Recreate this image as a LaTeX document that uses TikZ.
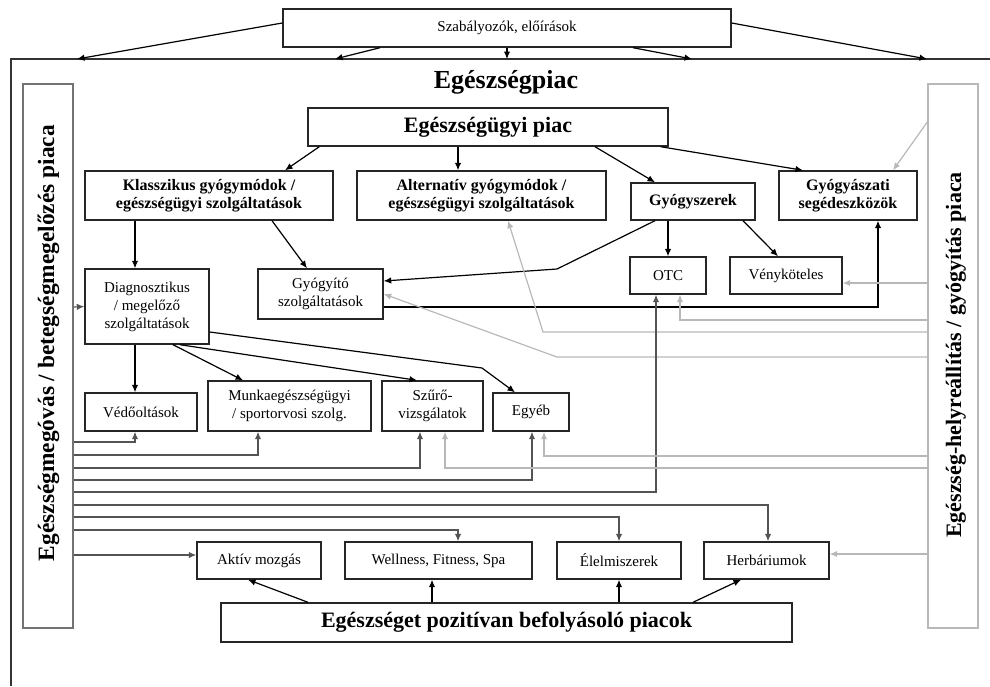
\documentclass[tikz,border=0pt]{standalone}
\usepackage{fontspec}
\setmainfont{Liberation Serif}
\usetikzlibrary{arrows.meta,calc}
\definecolor{dgray}{gray}{0.33}
\definecolor{mgray}{gray}{0.45}
\definecolor{lgray}{gray}{0.72}
\begin{document}
\begin{tikzpicture}[x=1pt,y=-1pt,
  bx/.style={draw=black!85, line width=1.4pt, inner sep=1pt, align=center, font=\fontsize{15}{18}\selectfont},
  bxb/.style={bx, font=\fontsize{16}{18}\selectfont\bfseries},
  side/.style={draw, line width=1.4pt, inner sep=0pt, minimum width=50pt, minimum height=544pt},
  sidetext/.style={rotate=90, anchor=base, inner sep=0pt, font=\fontsize{22}{26}\selectfont\bfseries},
  arr/.style={-{Latex[length=7.5pt,width=6.5pt]}, line width=1.2pt},
  darr/.style={arr, draw=dgray},
  garr/.style={arr, draw=lgray},
]
\useasboundingbox (0,0) rectangle (990,686);

% frame
\draw[line width=1.2pt, draw=black!80] (990,59) -- (11,59) -- (11,686);
\coordinate (t1) at (77,59);
\coordinate (t2) at (335,59);
\coordinate (t3) at (507,59);
\coordinate (t4) at (692,59);
\coordinate (t5) at (927,59);

% boxes
\node[bx, minimum width=448pt, minimum height=38pt] (szab) at (507,28) {Szabályozók, előírások};
\node[font=\fontsize{26}{28}\selectfont\bfseries, inner sep=0pt] (title) at (506,82) {Egészségpiac};
\node[bx, minimum width=360pt, minimum height=38pt, font=\fontsize{22}{24}\selectfont\bfseries] (ep) at (488,127) {Egészségügyi piac};

\node[bxb, minimum width=248pt, minimum height=49pt] (klassz) at (209,195.5) {Klasszikus gyógymódok /\\egészségügyi szolgáltatások};
\node[bxb, minimum width=249pt, minimum height=49pt] (altern) at (481.5,195.5) {Alternatív gyógymódok /\\egészségügyi szolgáltatások};
\node[bxb, minimum width=124pt, minimum height=37pt] (gyogysz) at (693,201.5) {Gyógyszerek};
\node[bxb, minimum width=138pt, minimum height=49pt] (seged) at (848,195.5) {Gyógyászati\\segédeszközök};

\node[bx, minimum width=124pt, minimum height=75pt] (diag) at (147,306.5) {Diagnosztikus\\/ megelőző\\szolgáltatások};
\node[bx, minimum width=125pt, minimum height=50pt] (gyito) at (320.5,294) {Gyógyító\\szolgáltatások};
\node[bx, minimum width=76pt, minimum height=37pt] (otc) at (668,275.5) {OTC};
\node[bx, minimum width=112pt, minimum height=37pt] (veny) at (786,275.5) {Vényköteles};

\node[bx, minimum width=112pt, minimum height=38pt] (vedo) at (141,412) {Védőoltások};
\node[bx, minimum width=163pt, minimum height=50pt] (munka) at (289.5,406) {Munkaegészségügyi\\/ sportorvosi szolg.};
\node[bx, minimum width=101pt, minimum height=50pt] (szuro) at (432.5,406) {Szűrő-\\vizsgálatok};
\node[bx, minimum width=76pt, minimum height=38pt] (egyeb) at (531,412) {Egyéb};

\node[bx, minimum width=124pt, minimum height=37pt] (aktiv) at (259,560.5) {Aktív mozgás};
\node[bx, minimum width=187pt, minimum height=37pt] (well) at (438.5,560.5) {Wellness, Fitness, Spa};
\node[bx, minimum width=124pt, minimum height=37pt] (elel) at (619,560.5) {Élelmiszerek};
\node[bx, minimum width=125pt, minimum height=37pt] (herb) at (766.5,560.5) {Herbáriumok};
\node[bx, minimum width=571pt, minimum height=39pt, font=\fontsize{22}{24}\selectfont\bfseries] (poz) at (506.5,622.5) {Egészséget pozitívan befolyásoló piacok};

\node[side, draw=mgray] (lb) at (48,356) {};
\node[side, draw=lgray] (rb) at (953,356) {};
\node[sidetext, font=\fontsize{23.4}{26}\selectfont\bfseries] (lbt) at (54,343) {Egészségmegóvás / betegségmegelőzés piaca};
\node[sidetext] (rbt) at (961,355) {Egészség-helyreállítás / gyógyítás piaca};

% regulators
\draw[arr] ([yshift=5pt]szab.west) -- (t1);
\draw[arr] ([xshift=-127pt]szab.south) -- (t2);
\draw[arr] (szab.south) -- (t3);
\draw[arr] ([xshift=126pt]szab.south) -- (t4);
\draw[arr] ([yshift=5pt]szab.east) -- (t5);

% healthcare market
\draw[arr] ([xshift=12pt]ep.south west) -- ([xshift=76pt]klassz.north);
\draw[arr] ([xshift=-30pt]ep.south) -- ([xshift=-23.5pt]altern.north);
\draw[arr] ([xshift=107pt]ep.south) -- ([xshift=-38pt]gyogysz.north);
\draw[arr] ([xshift=-8pt]ep.south east) -- ([xshift=-45pt]seged.north);
\draw[garr] ([yshift=234pt]rb.west) -- ([xshift=45pt]seged.north);

\draw[arr] ([xshift=-74pt]klassz.south) -- ([xshift=-12pt]diag.north);
\draw[arr] ([xshift=63pt]klassz.south) -- ([xshift=-13.5pt]gyito.north);
\draw[arr] ([xshift=-25pt]gyogysz.south) -- (otc.north);
\draw[arr] ([xshift=50pt]gyogysz.south) -- ([xshift=-8pt]veny.north);
\draw[arr] ([xshift=-38pt]gyogysz.south) -- (557,269) -- ([yshift=13pt]gyito.east);
\draw[arr] ([yshift=-13pt]gyito.east) -| ([xshift=30pt]seged.south);

% grey from right box (upper)
\draw[garr] ([yshift=73pt]rb.west) -- ([yshift=-7.5pt]veny.east);
\draw[garr] ([yshift=36pt]rb.west) -| ([xshift=12pt]otc.south);
\draw[garr] ([yshift=24pt]rb.west) -- (543,332) -- ([xshift=26.5pt]altern.south);
\draw[garr] ([yshift=-1pt]rb.west) -- (557,357) -- (gyito.east);

% diagnostics
\draw[arr] ([xshift=-12pt]diag.south) -- ([xshift=-6pt]vedo.north);
\draw[arr] ([xshift=26pt]diag.south) -- ([xshift=-46.5pt]munka.north);
\draw[arr] ([xshift=33pt]diag.south) -- ([xshift=-15.5pt]szuro.north);
\draw[arr] ([yshift=-25.5pt]diag.east) -- (482,368) -- ([xshift=-16pt]egyeb.north);

% from left box
\draw[darr] ([yshift=49pt]lb.east) -- (diag.west);
\draw[darr] ([yshift=-86pt]lb.east) -| ([xshift=-6pt]vedo.south);
\draw[darr] ([yshift=-99pt]lb.east) -| ([xshift=-31.5pt]munka.south);
\draw[darr] ([yshift=-112pt]lb.east) -| ([xshift=-12.5pt]szuro.south);
\draw[darr] ([yshift=-124pt]lb.east) -| ([xshift=1pt]egyeb.south);
\draw[darr] ([yshift=-136pt]lb.east) -| ([xshift=-12pt]otc.south);
\draw[darr] ([yshift=-149pt]lb.east) -| ([xshift=1.5pt]herb.north);
\draw[darr] ([yshift=-161pt]lb.east) -| (elel.north);
\draw[darr] ([yshift=-174pt]lb.east) -| ([xshift=19.5pt]well.north);
\draw[darr] ([yshift=-199pt]lb.east) -- ([yshift=5.5pt]aktiv.west);

% grey from right box (lower)
\draw[garr] ([yshift=-100pt]rb.west) -| ([xshift=13pt]egyeb.south);
\draw[garr] ([yshift=-112pt]rb.west) -| ([xshift=12.5pt]szuro.south);
\draw[garr] ([yshift=-198pt]rb.west) -- ([yshift=6.5pt]herb.east);

% positive markets
\draw[arr] ([xshift=-198.5pt]poz.north) -- ([xshift=-11pt]aktiv.south);
\draw[arr] ([xshift=-74.5pt]poz.north) -- ([xshift=-6.5pt]well.south);
\draw[arr] ([xshift=112.5pt]poz.north) -- (elel.south);
\draw[arr] ([xshift=186.5pt]poz.north) -- ([xshift=-25.5pt]herb.south);
\end{tikzpicture}
\end{document}
